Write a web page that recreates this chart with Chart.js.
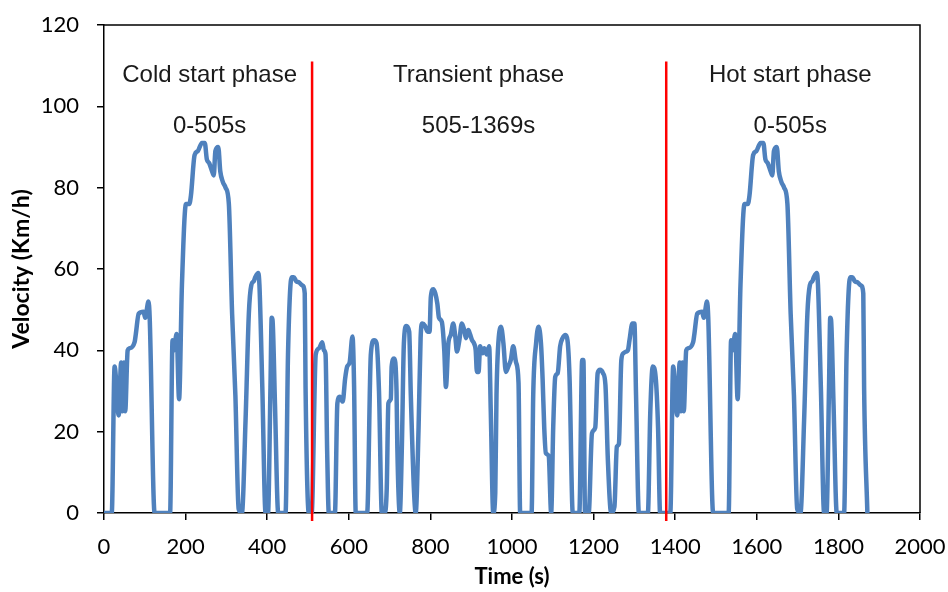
<!DOCTYPE html>
<html>
<head>
<meta charset="utf-8">
<script src="https://cdn.jsdelivr.net/npm/chart.js@4/dist/chart.umd.min.js"></script>
<style>
  html, body { margin: 0; padding: 0; background: #fff; }
  #wrap { width: 948px; height: 592px; }
</style>
</head>
<body>
<div id="wrap"><canvas id="cycleChart"></canvas></div>
<script>
// FTP-75 speed trace (time in s, speed in km/h)
const coldTime  = [0, 19, 26, 36, 42, 45, 49, 52, 58, 62, 75, 78, 85, 97, 101, 109, 112, 124, 162, 168, 171, 178, 184, 191, 201, 209, 213, 222, 230, 240, 247, 252, 258, 265, 269, 273, 280, 285, 291, 298, 306, 314, 322, 330, 338, 347, 355, 361, 367, 371, 378, 381, 388, 396, 402, 408, 411, 413, 419, 427, 445, 451, 460, 465, 471, 478, 486, 492, 494, 502];
const coldSpeed = [0, 0, 36, 24, 37, 25, 37, 25, 40, 40.5, 42, 44, 49, 49.5, 48, 52, 48, 0, 0, 42.5, 40, 44, 28, 56, 76, 76, 78, 88, 89, 91, 91, 87, 86, 84, 83, 89, 90, 84, 81.5, 80, 76, 49, 29, 1, 0, 23, 49, 56, 57, 58, 59, 56, 31, 0, 0, 31, 48, 47.5, 27, 0, 0, 39, 58, 58, 57, 56.7, 56, 54, 31, 0];

const transientTime  = [509, 519, 527, 535, 539, 543, 547, 551, 566, 572, 578, 585, 591, 596, 602, 609, 613, 617, 645, 654, 662, 668, 674, 681, 688, 693, 697, 703, 705, 711, 717, 719, 725, 730, 735, 741, 748, 752, 760, 764, 771, 776, 780, 787, 793, 798, 801, 807, 812, 817, 821, 828, 834, 838, 844, 850, 856, 861, 865, 871, 877, 883, 887, 893, 897, 902, 907, 911, 914, 918, 922, 928, 932, 938, 944, 948, 954, 959, 962, 969, 973, 979, 985, 992, 997, 1003, 1010, 1016, 1020, 1048, 1052, 1059, 1065, 1071, 1075, 1079, 1083, 1090, 1096, 1101, 1106, 1112, 1118, 1124, 1131, 1136, 1141, 1149, 1165, 1172, 1175, 1179, 1188, 1196, 1204, 1210, 1216, 1223, 1229, 1235, 1243, 1251, 1257, 1262, 1268, 1273, 1280, 1284, 1288, 1295, 1300, 1304, 1311, 1333, 1339, 1345, 1352, 1358, 1363, 1369];
const transientSpeed = [0, 39, 40.5, 42, 40, 39, 15, 0, 0, 27, 28.6, 27.4, 33, 36, 37, 43.4, 31, 0, 0, 39, 42.5, 41.8, 30, 0, 0, 6, 27, 28, 36, 38, 30, 16, 0, 16, 41.7, 46, 44.6, 29, 5, 0, 21, 43, 46.6, 46, 44.6, 44.6, 53, 55, 54, 51.5, 48, 47, 40, 31, 41.7, 43.8, 46.6, 43.4, 39.7, 42.5, 46.6, 45, 43, 45, 44, 42.5, 41.7, 40, 34.7, 34.7, 41, 39.3, 40.5, 39, 41, 25, 0, 5, 29, 44.6, 45.8, 41.7, 34.7, 36.3, 37.6, 41, 37, 32, 0, 0, 29, 41.7, 45.8, 41.7, 33, 21, 14.7, 14, 0, 21, 33.5, 34.4, 41, 43, 43.8, 42.5, 33.5, 0, 0, 37.6, 37.6, 0, 0, 19.6, 21, 34.4, 35.2, 34.4, 31.5, 13, 0, 1.5, 16.3, 17, 37.6, 39.3, 39.7, 40, 42.5, 46.6, 46.6, 29, 0, 0, 25, 36, 33.5, 21, 0, 0];

const hotTime  = [1388, 1395, 1405, 1411, 1414, 1418, 1421, 1427, 1431, 1444, 1447, 1454, 1466, 1470, 1478, 1481, 1493, 1531, 1537, 1540, 1547, 1553, 1560, 1570, 1578, 1582, 1591, 1599, 1609, 1616, 1621, 1627, 1634, 1638, 1642, 1649, 1654, 1660, 1667, 1675, 1683, 1691, 1699, 1707, 1716, 1724, 1730, 1736, 1740, 1747, 1750, 1757, 1765, 1771, 1777, 1780, 1782, 1788, 1796, 1814, 1820, 1829, 1834, 1840, 1847, 1855, 1861, 1863, 1871];
const hotSpeed = [0, 36, 24, 37, 25, 37, 25, 40, 40.5, 42, 44, 49, 49.5, 48, 52, 48, 0, 0, 42.5, 40, 44, 28, 56, 76, 76, 78, 88, 89, 91, 91, 87, 86, 84, 83, 89, 90, 84, 81.5, 80, 76, 49, 29, 1, 0, 23, 49, 56, 57, 58, 59, 56, 31, 0, 0, 31, 48, 47.5, 27, 0, 0, 39, 58, 58, 57, 56.7, 56, 54, 31, 0];

// phase separators and labels
const phaseBreaks = [510, 1378];
const phaseLabels = [
  { t: 259, name: 'Cold start phase', range: '0-505s' },
  { t: 918, name: 'Transient phase', range: '505-1369s' },
  { t: 1682, name: 'Hot start phase', range: '0-505s' }
];

const xTicks = [0, 200, 400, 600, 800, 1000, 1200, 1400, 1600, 1800, 2000];

const points = [];
[[coldTime, coldSpeed], [transientTime, transientSpeed], [hotTime, hotSpeed]].forEach(function (p) {
  for (let i = 0; i < p[0].length; i++) points.push({ x: p[0][i], y: p[1][i] });
});

const phasePlugin = {
  id: 'phases',
  afterDatasetsDraw(chart) {
    const ctx = chart.ctx, a = chart.chartArea;
    const xs = chart.scales.x, ys = chart.scales.y;
    ctx.save();
    // box on top and right
    ctx.strokeStyle = '#000';
    ctx.lineWidth = 1.5;
    ctx.beginPath();
    ctx.moveTo(a.left, a.top);
    ctx.lineTo(a.right, a.top);
    ctx.lineTo(a.right, a.bottom);
    ctx.stroke();
    // red separators
    ctx.strokeStyle = '#ff0000';
    ctx.lineWidth = 2.5;
    phaseBreaks.forEach(function (t) {
      const px = xs.getPixelForValue(t);
      ctx.beginPath();
      ctx.moveTo(px, ys.getPixelForValue(111));
      ctx.lineTo(px, a.bottom + 8);
      ctx.stroke();
    });
    // labels
    ctx.fillStyle = '#1a1a1a';
    ctx.font = '24px "Liberation Sans", Arial, sans-serif';
    ctx.textAlign = 'center';
    ctx.textBaseline = 'middle';
    phaseLabels.forEach(function (l) {
      const px = xs.getPixelForValue(l.t);
      ctx.fillText(l.name, px, ys.getPixelForValue(107.5));
      ctx.fillText(l.range, px, ys.getPixelForValue(95));
    });
    ctx.restore();
  }
};

new Chart(document.getElementById('cycleChart'), {
  type: 'line',
  data: {
    datasets: [{
      data: points,
      borderColor: '#4f81bd',
      borderWidth: 4.5,
      pointRadius: 0,
      fill: false,
      cubicInterpolationMode: 'monotone'
    }]
  },
  options: {
    responsive: true,
    maintainAspectRatio: false,
    animation: false,
    layout: { padding: { top: 25, right: 28, bottom: 0, left: 8 } },
    plugins: {
      legend: { display: false },
      tooltip: { enabled: false }
    },
    scales: {
      x: {
        type: 'linear',
        min: 0,
        max: 2000,
        afterBuildTicks: function (s) { s.ticks = xTicks.map(function (v) { return { value: v }; }); },
        afterFit: function (s) { s.height = 79; s.paddingLeft = 0; s.paddingRight = 0; },
        grid: { drawOnChartArea: false, drawTicks: true, tickLength: 7, color: '#000', lineWidth: 1.5 },
        border: { color: '#000', width: 1.5 },
        ticks: { color: '#000', padding: 14, maxRotation: 0, font: { family: 'Lato', size: 22 },
                 callback: function (v) { return String(v); } },
        title: { display: true, text: 'Time (s)', color: '#000', padding: { top: 0, bottom: 2 }, font: { family: 'Lato', size: 22, weight: 'bold' } }
      },
      y: {
        min: 0,
        max: 120,
        afterFit: function (s) { s.width = 96; s.paddingTop = 0; s.paddingBottom = 0; },
        grid: { drawOnChartArea: false, drawTicks: true, tickLength: 7, color: '#000', lineWidth: 1.5 },
        border: { color: '#000', width: 1.5 },
        ticks: { stepSize: 20, color: '#000', padding: 18, font: { family: 'Lato', size: 22 } },
        title: { display: true, text: 'Velocity (Km/h)', color: '#000', padding: { top: 0, bottom: 0 }, font: { family: 'Lato', size: 23, weight: 'bold' } }
      }
    }
  },
  plugins: [phasePlugin]
});
</script>
</body>
</html>
